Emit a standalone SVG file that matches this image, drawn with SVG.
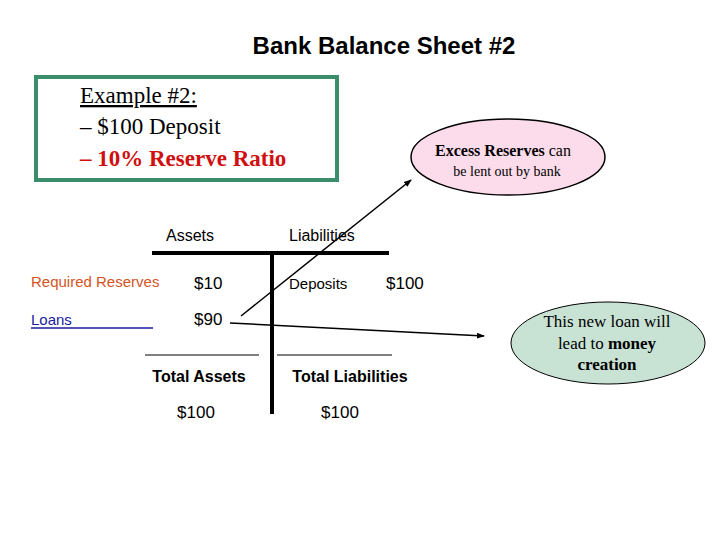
<svg xmlns="http://www.w3.org/2000/svg" width="720" height="540" viewBox="0 0 720 540">
<style>
.a{font-family:"Liberation Sans",Arial,sans-serif;fill:#000}
.s{font-family:"Liberation Serif","Times New Roman",serif;fill:#000}
.ln{stroke:#000;fill:none}
</style>
<defs><marker id="ah" markerWidth="8" markerHeight="8" refX="7" refY="4" orient="auto" markerUnits="userSpaceOnUse"><path d="M0,1 L8,4 L0,7z" fill="#000"/></marker></defs>
<rect width="720" height="540" fill="#fff"/>
<text class="a" x="384" y="54" font-size="24" font-weight="bold" text-anchor="middle">Bank Balance Sheet #2</text>
<g id="example">
<rect x="36" y="77" width="301" height="103" fill="#fff" stroke="#3a8f6a" stroke-width="4"/>
<text class="s" x="80" y="103" font-size="23" text-decoration="underline">Example #2:</text>
<text class="s" x="80" y="134" font-size="23">– $100 Deposit</text>
<text class="s" x="80" y="166" font-size="23" font-weight="bold" style="fill:#d01010">– 10% Reserve Ratio</text>
</g>
<g id="excess">
<ellipse cx="508" cy="157" rx="97" ry="38" fill="#fcdcea" stroke="#000" stroke-width="1.5"/>
<text class="s" x="503" y="156" font-size="16" text-anchor="middle"><tspan font-weight="bold">Excess Reserves</tspan> can</text>
<text class="s" x="507" y="176" font-size="14" text-anchor="middle">be lent out by bank</text>
</g>
<g id="newloan">
<ellipse cx="608" cy="343" rx="97" ry="41" fill="#c8e2d4" stroke="#000" stroke-width="1"/>
<text class="s" x="607" y="327" font-size="17" text-anchor="middle">This new loan will</text>
<text class="s" x="607" y="349" font-size="17" text-anchor="middle">lead to <tspan font-weight="bold">money</tspan></text>
<text class="s" x="607" y="370" font-size="17" text-anchor="middle" font-weight="bold">creation</text>
</g>
<g id="tchart">
<line class="ln" x1="152" y1="253" x2="389" y2="253" stroke-width="4"/>
<line class="ln" x1="272" y1="253" x2="272" y2="414" stroke-width="4"/>
<text class="a" x="190" y="241" font-size="16" text-anchor="middle">Assets</text>
<text class="a" x="289" y="241" font-size="16">Liabilities</text>
<text class="a" x="31" y="287" font-size="15" style="fill:#d4541f">Required Reserves</text>
<text class="a" x="194" y="289" font-size="17">$10</text>
<text class="a" x="289" y="289" font-size="15">Deposits</text>
<text class="a" x="386" y="289" font-size="17">$100</text>
<text class="a" x="31" y="325" font-size="15" style="fill:#1a1aa0">Loans</text>
<line x1="31" y1="328" x2="153" y2="328" stroke="#1a1aa0" stroke-width="1.5"/>
<text class="a" x="194" y="325" font-size="17">$90</text>
<line class="ln" x1="145" y1="355" x2="259" y2="355"/>
<line class="ln" x1="277" y1="355" x2="392" y2="355"/>
<text class="a" x="199" y="382" font-size="16" font-weight="bold" text-anchor="middle">Total Assets</text>
<text class="a" x="350" y="382" font-size="16" font-weight="bold" text-anchor="middle">Total Liabilities</text>
<text class="a" x="196" y="418" font-size="17" text-anchor="middle">$100</text>
<text class="a" x="340" y="418" font-size="17" text-anchor="middle">$100</text>
</g>
<g id="connectors">
<line class="ln" x1="241" y1="316" x2="411" y2="180" stroke-width="1.5" marker-end="url(#ah)"/>
<line class="ln" x1="230" y1="323" x2="484" y2="336" stroke-width="1.5" marker-end="url(#ah)"/>
</g>
</svg>
